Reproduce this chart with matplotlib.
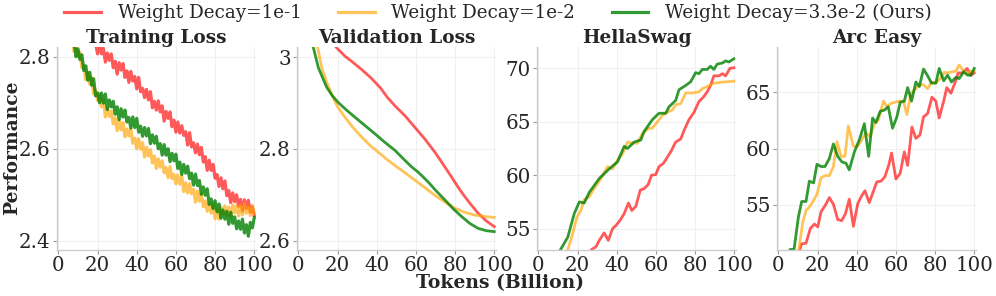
import matplotlib
matplotlib.use("Agg")
import matplotlib.pyplot as plt
from matplotlib.ticker import FuncFormatter

plt.rcParams['font.family'] = ['DejaVu Serif']

labels = ["Weight Decay=1e-1", "Weight Decay=1e-2", "Weight Decay=3.3e-2 (Ours)"]
colors = ["red", "orange", "green"]
alphas = [0.65, 0.65, 0.8]

# ---------------- Training loss ----------------
tl_x_red = list(range(15, 101))
tl_red = [2.862, 2.834, 2.854, 2.824, 2.830, 2.806, 2.834, 2.806, 2.818, 2.788,
          2.808, 2.792, 2.806, 2.776, 2.790, 2.762, 2.787, 2.771, 2.785, 2.755,
          2.769, 2.744, 2.768, 2.747, 2.757, 2.730, 2.755, 2.724, 2.731, 2.711,
          2.729, 2.706, 2.724, 2.689, 2.703, 2.684, 2.704, 2.680, 2.693, 2.660,
          2.681, 2.666, 2.680, 2.648, 2.662, 2.636, 2.658, 2.634, 2.650, 2.629,
          2.637, 2.608, 2.635, 2.604, 2.613, 2.591, 2.610, 2.587, 2.603, 2.571,
          2.583, 2.553, 2.575, 2.553, 2.566, 2.536, 2.544, 2.518, 2.537, 2.513,
          2.530, 2.498, 2.509, 2.483, 2.504, 2.485, 2.500, 2.475, 2.490, 2.465,
          2.489, 2.470, 2.488, 2.462, 2.474, 2.455]
tl_x_orange = list(range(5, 101))
tl_orange = [2.880, 2.843, 2.848, 2.811, 2.827, 2.800, 2.809, 2.776, 2.781, 2.750,
             2.766, 2.740, 2.755, 2.719, 2.727, 2.705, 2.720, 2.691, 2.706, 2.669,
             2.688, 2.670, 2.682, 2.654, 2.667, 2.639, 2.662, 2.641, 2.657, 2.626,
             2.643, 2.628, 2.643, 2.612, 2.623, 2.600, 2.622, 2.599, 2.613, 2.582,
             2.603, 2.584, 2.598, 2.569, 2.584, 2.557, 2.578, 2.560, 2.574, 2.548,
             2.559, 2.537, 2.561, 2.535, 2.544, 2.524, 2.543, 2.523, 2.541, 2.507,
             2.526, 2.504, 2.524, 2.502, 2.512, 2.484, 2.508, 2.486, 2.503, 2.474,
             2.487, 2.464, 2.482, 2.460, 2.479, 2.448, 2.468, 2.447, 2.473, 2.458,
             2.476, 2.455, 2.473, 2.451, 2.478, 2.461, 2.477, 2.454, 2.476, 2.456,
             2.481, 2.460, 2.473, 2.455, 2.477, 2.459]
tl_x_green = list(range(5, 101))
tl_green = [2.862, 2.870, 2.829, 2.833, 2.800, 2.817, 2.794, 2.804, 2.770, 2.780,
            2.749, 2.766, 2.738, 2.752, 2.715, 2.721, 2.700, 2.721, 2.699, 2.719,
            2.685, 2.706, 2.691, 2.703, 2.675, 2.691, 2.663, 2.687, 2.669, 2.684,
            2.658, 2.668, 2.645, 2.669, 2.646, 2.666, 2.636, 2.649, 2.627, 2.646,
            2.628, 2.644, 2.611, 2.630, 2.612, 2.627, 2.600, 2.611, 2.586, 2.609,
            2.586, 2.600, 2.572, 2.590, 2.574, 2.588, 2.557, 2.571, 2.544, 2.566,
            2.547, 2.562, 2.535, 2.547, 2.521, 2.545, 2.520, 2.531, 2.501, 2.517,
            2.499, 2.513, 2.479, 2.491, 2.470, 2.487, 2.463, 2.480, 2.449, 2.467,
            2.447, 2.464, 2.436, 2.462, 2.438, 2.452, 2.426, 2.443, 2.425, 2.447,
            2.417, 2.435, 2.410, 2.440, 2.428, 2.450]

# ---------------- Validation loss ----------------
vl_x_red = [0, 10, 19.6, 23.8, 28, 32.3, 37, 41.7, 45.5, 49.3, 54.5, 59.5, 64.5, 69.7,
            74, 78.2, 81.5, 85, 88.5, 91.8, 96, 100]
vl_red = [3.12, 3.07, 3.02, 3.002, 2.988, 2.973, 2.955, 2.934, 2.912, 2.894, 2.872,
          2.847, 2.822, 2.793, 2.766, 2.739, 2.717, 2.696, 2.677, 2.660, 2.643, 2.631]
vl_x_orange = [0, 5, 9.9, 11.9, 14.5, 17, 20, 23.8, 28, 32.3, 36.5, 40.8, 45, 49.3,
               54.5, 59.5, 64.5, 69.7, 75, 79.9, 85, 90.1, 95, 100]
vl_orange = [3.20, 3.09, 3.02, 2.977, 2.945, 2.919, 2.892, 2.869, 2.846, 2.826, 2.808,
             2.793, 2.778, 2.764, 2.748, 2.732, 2.716, 2.699, 2.684, 2.671, 2.662,
             2.656, 2.653, 2.651]
vl_x_green = [0, 5, 7.7, 10.2, 14.5, 17.5, 20.4, 24.5, 28.9, 34, 39.1, 44, 49.3, 53.5,
              57.8, 61, 63, 66.3, 70.5, 74.8, 79, 83.3, 87.5, 91.8, 96, 100]
vl_green = [3.20, 3.06, 3.02, 2.977, 2.934, 2.915, 2.901, 2.885, 2.869, 2.851, 2.833,
            2.815, 2.797, 2.779, 2.761, 2.750, 2.742, 2.728, 2.708, 2.689, 2.670,
            2.653, 2.638, 2.627, 2.622, 2.620]

# ---------------- HellaSwag ----------------
hs_x_red = [26, 27.2, 29.4, 31.1, 33.6, 35.7, 37.9, 39.6, 41.8, 43.8, 46, 47.7, 49.8,
            52, 54, 56, 57.8, 59.9, 61.6, 63.8, 65.9, 67.9, 70.1, 72.7, 74.4, 76.9,
            79.5, 82, 84.2, 86.2, 87.9, 89.6, 92.2, 93.9, 95.6, 97.8, 99.8]
hs_red = [52.6, 53.05, 53.3, 53.9, 54.6, 53.9, 55.0, 55.3, 55.8, 56.4, 57.4, 56.7, 57.1,
          58.6, 58.75, 59.1, 60.0, 60.06, 60.8, 61.1, 61.7, 62.3, 63.1, 63.4, 64.2,
          65.2, 65.9, 66.9, 67.3, 67.8, 68.4, 69.3, 69.3, 69.5, 69.3, 70.0, 70.06]
hs_x_orange = [14, 15, 17.5, 19.7, 21.7, 23.4, 26, 28.5, 32, 35.3, 37.9, 40.4, 43,
               45.5, 48, 50.6, 53.1, 56.5, 58.2, 60.8, 63.3, 65.9, 68.4, 70.1, 72.7,
               75.2, 78.6, 82, 83.7, 86.2, 89.6, 93, 96.4, 99.8]
hs_orange = [52.5, 53.0, 54.5, 56.1, 56.7, 57.7, 58.0, 58.75, 59.7, 60.8, 60.6, 61.4,
             62.0, 63.1, 63.0, 63.0, 63.9, 64.4, 64.4, 65.0, 65.6, 65.9, 66.1, 66.6,
             66.7, 67.7, 67.7, 67.8, 68.1, 68.3, 68.6, 68.7, 68.75, 68.8]
hs_x_green = [10, 11.2, 15, 18.3, 20.9, 23.4, 26, 31.1, 36.2, 40.4, 43.8, 45.5, 48.9,
              52.3, 54, 58.2, 61.6, 65, 66.7, 70.1, 71.8, 75.2, 77.8, 80.3, 82, 83.7,
              86.2, 87.9, 89.6, 91.3, 93.9, 95.6, 97.3, 99.8]
hs_green = [52.6, 53.0, 54.2, 56.4, 57.5, 57.4, 58.4, 59.7, 60.6, 61.25, 62.7, 62.5,
            63.1, 63.3, 64.1, 65.2, 65.8, 65.8, 66.4, 67.0, 68.0, 68.4, 68.75, 69.6,
            69.5, 69.9, 69.9, 70.2, 69.9, 70.4, 70.5, 70.7, 70.6, 70.9]

# ---------------- Arc Easy ----------------
ae_x_red = [10, 11.9, 14.1, 16.3, 18.4, 20.1, 21.8, 24, 26, 28.1, 30.3, 32.3, 34.2, 36.2,
            38.3, 40.5, 42.5, 44.2, 46.4, 48.5, 50.3, 52.4, 54.4, 56.3, 57.8, 60, 62.2,
            64.3, 66, 68.2, 70.2, 72.3, 74.1, 76.2, 78.4, 80.4, 82.1, 84.4, 86, 88.1,
            90.1, 91.8, 94, 96.3, 98.3, 100]
ae_red = [50.5, 51.55, 51.6, 52.9, 53.3, 53.05, 54.4, 54.97, 55.65, 55.06, 53.7, 53.6,
          54.2, 55.5, 53.1, 55.1, 55.8, 56.25, 55.2, 56.2, 57.05, 57.1, 57.5, 58.5, 59.6,
          57.3, 57.8, 59.7, 58.5, 61.9, 60.9, 61.2, 62.8, 63.1, 64.55, 64.2, 62.7, 64.2,
          65.4, 64.9, 65.8, 66.7, 66.7, 67.1, 66.5, 66.7]
ae_x_orange = [10, 12.4, 14.1, 15.8, 18, 19.7, 21.8, 23.8, 26, 28.1, 29.9, 32, 34, 35.7,
               38.3, 40.5, 42.5, 44.7, 46.9, 49, 51, 53.7, 55.4, 57.5, 59.5, 61.7, 63.9,
               65.6, 67.7, 69.7, 72, 74.1, 76.2, 78.2, 80.4, 82.7, 84.7, 86.4, 88.6,
               90.6, 92.3, 94.6, 96.6, 98.3, 100]
ae_orange = [50.5, 53.4, 54.5, 54.8, 55.4, 55.95, 57.4, 57.6, 57.6, 58.4, 60.6, 59.3,
             59.3, 62.0, 60.2, 60.2, 60.75, 61.4, 61.05, 62.2, 62.5, 64.2, 63.7, 64.0,
             64.1, 64.2, 64.2, 63.0, 64.9, 65.2, 65.65, 65.65, 65.3, 65.9, 65.8, 66.2,
             66.75, 66.7, 66.8, 66.85, 67.4, 66.85, 66.7, 66.85, 66.85]
ae_x_green = [4, 6, 8, 10.2, 11.9, 14.1, 15.8, 18, 19.7, 21.8, 23.8, 26, 28.1, 30.3,
              32.5, 34.5, 36.2, 38.8, 41.3, 43.9, 46.1, 48.1, 49.8, 52, 54.1, 56.1, 58.3,
              60.5, 62.2, 64.3, 66, 68, 70.2, 72, 74.1, 76.2, 78.2, 80.4, 82.1, 84.4,
              86.4, 88.4, 90.6, 92.3, 94.6, 96.6, 98.3, 100]
ae_green = [50.0, 51.05, 51.05, 53.9, 55.3, 55.3, 57.1, 56.95, 58.6, 58.4, 58.4, 59.1,
            60.4, 59.3, 58.8, 58.7, 58.1, 59.7, 60.75, 62.2, 59.3, 62.7, 62.3, 63.3,
            63.4, 63.7, 61.8, 62.8, 64.1, 64.2, 65.4, 64.2, 65.9, 65.5, 67.05, 66.45,
            65.8, 65.8, 67.1, 66.0, 66.5, 65.9, 66.3, 66.2, 66.8, 66.5, 66.5, 67.1]

panels = [
    ("Training Loss", [(tl_x_red, tl_red), (tl_x_orange, tl_orange), (tl_x_green, tl_green)],
     (2.38, 2.821), [2.4, 2.6, 2.8]),
    ("Validation Loss", [(vl_x_red, vl_red), (vl_x_orange, vl_orange), (vl_x_green, vl_green)],
     (2.58, 3.022), [2.6, 2.8, 3.0]),
    ("HellaSwag", [(hs_x_red, hs_red), (hs_x_orange, hs_orange), (hs_x_green, hs_green)],
     (53.0, 72.0), [55, 60, 65, 70]),
    ("Arc Easy", [(ae_x_red, ae_red), (ae_x_orange, ae_orange), (ae_x_green, ae_green)],
     (51.0, 69.0), [55, 60, 65]),
]
x_ticks = [0, 20, 40, 60, 80, 100]

W, H = 996, 296
fig = plt.figure(figsize=(W / 100, H / 100), dpi=100)
lefts = [57, 297, 537, 777]
text_color = "#262626"
handles = []
for i, (title, series, ylim, yticks) in enumerate(panels):
    ax = fig.add_axes([lefts[i] / W, 46 / H, 199 / W, 203 / H])
    lw = 2.3 if i == 0 else 2.0
    for j, (xs, ys) in enumerate(series):
        ln, = ax.plot(xs, ys, color=colors[j], alpha=alphas[j], lw=lw, label=labels[j])
        if i == 0:
            handles.append(ln)
    ax.set_xlim(-0.7, 100.9)
    ax.set_ylim(*ylim)
    ax.set_xticks(x_ticks)
    ax.set_yticks(yticks)
    ax.yaxis.set_major_formatter(FuncFormatter(lambda v, p: "%g" % v))
    ax.set_title(title, fontsize=13.3, fontweight="bold", color=text_color, pad=2)
    ax.grid(True, color="#f0f0f0", lw=0.8)
    ax.set_axisbelow(True)
    for s in ["top", "right"]:
        ax.spines[s].set_visible(False)
    for s in ["left", "bottom"]:
        ax.spines[s].set_color("#cccccc")
        ax.spines[s].set_linewidth(1.0)
    ax.tick_params(axis="both", labelsize=14.3, labelcolor=text_color, color="#999999",
                   length=3, width=0.8, pad=1.5)

fig.text(12 / W, 148 / H, "Performance", rotation=90, ha="center", va="center",
         fontsize=13.5, fontweight="bold", color=text_color)
fig.text(500 / W, 1 - 283 / H, "Tokens (Billion)", ha="center", va="center",
         fontsize=13.5, fontweight="bold", color=text_color)
fig.legend(handles=handles, labels=labels, loc="center", bbox_to_anchor=(0.5, 1 - 13 / H),
           ncol=3, frameon=False, fontsize=13.2, handlelength=2.0, handletextpad=0.9,
           columnspacing=2.0, labelcolor=text_color)
fig.savefig("out.png", dpi=100)
